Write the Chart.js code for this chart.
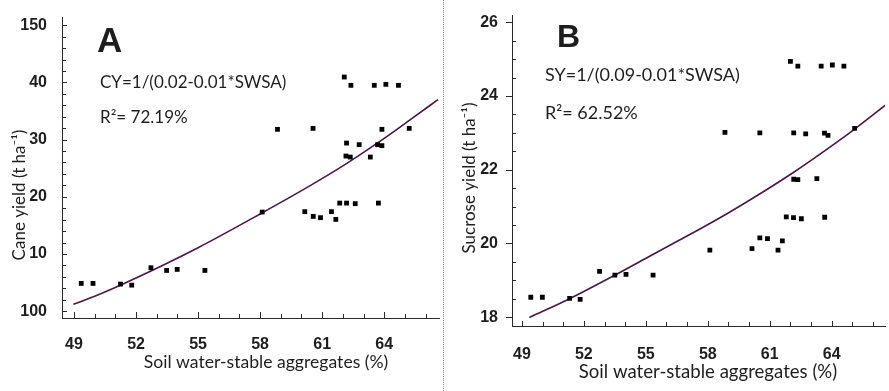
<!DOCTYPE html>
<html>
<head>
<meta charset="utf-8">
<script src="https://cdn.jsdelivr.net/npm/chart.js@4.4.1/dist/chart.umd.min.js"></script>
<style>
  html, body { margin: 0; padding: 0; background: #fff; }
  #wrap { position: relative; width: 889px; height: 391px; overflow: hidden; }
  #chartA { position: absolute; left: 0; top: 0; }
  #chartB { position: absolute; left: 444px; top: 0; }
  #divider { position: absolute; left: 443px; top: 0; width: 0; height: 391px; border-left: 1px dotted #8a8a8a; }
</style>
</head>
<body>
<div id="wrap">
  <canvas id="chartA" width="443" height="391"></canvas>
  <div id="divider"></div>
  <canvas id="chartB" width="445" height="391"></canvas>
</div>
<script>
// shared x axis ticks (soil water-stable aggregates, %)
let xTicks = [49, 52, 55, 58, 61, 64];

// panel A - cane yield
let yTicksA = [0, 10, 20, 30, 40, 50];
let yTickLabelsA = ['100', '10', '20', '30', '40', '150'];
let swsaA = [49.35, 49.92, 51.25, 51.79, 52.72, 53.48, 53.99, 55.33, 58.10, 58.84,
             60.16, 60.56, 60.57, 60.92, 61.45, 61.66, 61.85, 62.07, 62.18, 62.18,
             62.15, 62.36, 62.39, 62.60, 62.79, 63.33, 63.52, 63.68, 63.72, 63.89,
             63.89, 64.08, 64.69, 65.21];
let caneYield = [4.85, 4.85, 4.73, 4.55, 7.59, 7.12, 7.30, 7.12, 17.33, 31.80,
                 17.40, 31.97, 16.57, 16.35, 17.40, 16.05, 18.90, 40.95, 29.40, 18.90,
                 27.13, 26.95, 39.50, 18.80, 29.12, 26.95, 39.50, 29.12, 18.90, 31.80,
                 28.95, 39.67, 39.50, 31.97];
// fitted curve
let fitXA = [48.97, 50.0, 52.0, 55.0, 58.0, 60.44, 62.04, 63.63, 65.23, 66.6];
let fitYA = [1.2, 2.6, 5.8, 11.1, 17.0, 22.0, 25.5, 29.3, 33.4, 37.0];

// panel B - sucrose yield
let yTicksB = [18, 20, 22, 24, 26];
let swsaB = [49.43, 49.99, 51.31, 51.82, 52.76, 53.50, 54.04, 55.35, 58.10, 58.83,
             60.14, 60.52, 60.52, 60.89, 61.40, 61.61, 61.80, 62.00, 62.15, 62.16,
             62.16, 62.36, 62.36, 62.53, 62.74, 63.28, 63.49, 63.65, 63.66, 63.82,
             64.03, 64.59, 65.11];
let sucroseYield = [18.54, 18.54, 18.51, 18.48, 19.24, 19.14, 19.16, 19.14, 19.82, 23.01,
                    19.86, 23.00, 20.15, 20.13, 19.82, 20.07, 20.72, 24.94, 20.70, 23.00,
                    21.74, 21.73, 24.81, 20.67, 22.97, 21.76, 24.81, 22.99, 20.71, 22.93,
                    24.84, 24.81, 23.12];
let fitXB = [49.36, 51.31, 53.47, 55.14, 57.06, 58.97, 60.57, 62.16, 63.76, 65.11, 66.6];
let fitYB = [17.99, 18.50, 19.13, 19.64, 20.22, 20.82, 21.36, 21.93, 22.55, 23.10, 23.75];

const TXT = '#1e1e1e';
const AXIS = '#2a2a2a';
const CURVE = '#4b1745';
const tickFont = { family: "'Liberation Sans', Arial, sans-serif", size: 16, weight: 'bold' };
const textFamily = "Lato, 'DejaVu Sans', sans-serif";

function pairs(xs, ys) {
    return xs.map((x, i) => ({ x: x, y: ys[i] }));
}

function range(from, to, step) {
    let out = [];
    for (let v = from; v <= to + 1e-9; v += step) out.push(Math.round(v * 100) / 100);
    return out;
}

// tick marks drawn by hand so minor ticks and inward ticks are possible
const tickMarks = {
    id: 'tickMarks',
    afterDraw(chart, args, opts) {
        let ctx = chart.ctx;
        let xs = chart.scales.x, ys = chart.scales.y;
        let area = chart.chartArea;
        ctx.save();
        ctx.strokeStyle = AXIS;
        ctx.lineWidth = 1;
        ctx.beginPath();
        opts.x.forEach(t => {
            t.values.forEach(v => {
                let px = Math.round(xs.getPixelForValue(v)) + 0.5;
                ctx.moveTo(px, area.bottom + t.out);
                ctx.lineTo(px, area.bottom - t.in);
            });
        });
        opts.y.forEach(t => {
            t.values.forEach(v => {
                let py = Math.round(ys.getPixelForValue(v)) + 0.5;
                ctx.moveTo(area.left - t.out, py);
                ctx.lineTo(area.left + t.in, py);
            });
        });
        ctx.stroke();
        ctx.restore();
    }
};

// panel letter, fit equation and axis titles
const panelText = {
    id: 'panelText',
    afterDraw(chart, args, opts) {
        let ctx = chart.ctx;
        ctx.save();
        ctx.fillStyle = TXT;
        ctx.textBaseline = 'alphabetic';
        ctx.textAlign = 'left';
        ctx.font = 'bold ' + opts.letter.size + "px 'Liberation Sans', Arial, sans-serif";
        ctx.fillText(opts.letter.text, opts.letter.x, opts.letter.y);

        ctx.textBaseline = 'middle';
        opts.lines.forEach(l => {
            ctx.font = l.size + 'px ' + textFamily;
            ctx.fillText(l.text, l.x, l.y);
        });

        ctx.textAlign = 'center';
        ctx.font = opts.xTitle.size + 'px ' + textFamily;
        ctx.fillText(opts.xTitle.text, opts.xTitle.x, opts.xTitle.y);

        ctx.translate(opts.yTitle.x, opts.yTitle.y);
        ctx.rotate(-Math.PI / 2);
        ctx.font = opts.yTitle.size + 'px ' + textFamily;
        ctx.fillText(opts.yTitle.text, 0, 0);
        ctx.restore();
    }
};

function makeChart(canvas, cfg) {
    return new Chart(canvas, {
        type: 'scatter',
        data: {
            datasets: [{
                data: pairs(cfg.px, cfg.py),
                pointStyle: 'rect',
                pointRadius: 3.4,
                pointBorderWidth: 0,
                backgroundColor: '#000',
                borderColor: '#000',
                order: 0
            }, {
                data: pairs(cfg.fx, cfg.fy),
                showLine: true,
                pointRadius: 0,
                borderColor: CURVE,
                borderWidth: 1.6,
                cubicInterpolationMode: 'monotone',
                order: 1
            }]
        },
        options: {
            responsive: false,
            animation: false,
            devicePixelRatio: 1,
            layout: { padding: { top: cfg.top, right: 0, left: 0, bottom: 0 } },
            plugins: {
                legend: { display: false },
                tooltip: { enabled: false },
                tickMarks: cfg.tickMarks,
                panelText: cfg.text
            },
            scales: {
                x: {
                    type: 'linear',
                    min: cfg.xMin, max: cfg.xMax,
                    grid: { display: false },
                    border: { display: true, color: AXIS, width: 1 },
                    afterBuildTicks: s => { s.ticks = xTicks.map(v => ({ value: v })); },
                    afterFit: s => { s.height = cfg.xHeight; },
                    ticks: {
                        font: tickFont, color: TXT, padding: cfg.xPad,
                        maxRotation: 0, autoSkip: false
                    }
                },
                y: {
                    type: 'linear',
                    min: cfg.yMin, max: cfg.yMax,
                    grid: { display: false },
                    border: { display: true, color: AXIS, width: 1 },
                    afterBuildTicks: s => { s.ticks = cfg.yTicks.map(v => ({ value: v })); },
                    afterFit: s => { s.width = cfg.yWidth; },
                    ticks: {
                        font: tickFont, color: TXT, padding: cfg.yPad, autoSkip: false,
                        callback: cfg.yLabel
                    }
                }
            }
        },
        plugins: [tickMarks, panelText]
    });
}

makeChart(document.getElementById('chartA'), {
    px: swsaA, py: caneYield, fx: fitXA, fy: fitYA,
    xMin: 48.42, xMax: 66.65, yMin: -1.2, yMax: 51.45,
    top: 17, xHeight: 73, yWidth: 62, xPad: 9, yPad: 7,
    yTicks: yTicksA,
    yLabel: (v, i) => yTickLabelsA[i],
    tickMarks: {
        x: [{ values: xTicks, in: 6, out: 0 },
            { values: range(49, 66, 1).filter(v => xTicks.indexOf(v) < 0), in: 4, out: 0 }],
        y: [{ values: yTicksA, in: 5, out: 0 },
            { values: range(0, 50, 2).filter(v => v % 10 !== 0), in: 4, out: 0 }]
    },
    text: {
        letter: { text: 'A', x: 97, y: 52, size: 35 },
        lines: [
            { text: 'CY=1/(0.02-0.01*SWSA)', x: 100, y: 83, size: 17 },
            { text: 'R\u00b2= 72.19%', x: 100, y: 118, size: 17 }
        ],
        xTitle: { text: 'Soil water-stable aggregates (%)', x: 266, y: 362, size: 17.6 },
        yTitle: { text: 'Cane yield (t ha\u207b\u00b9)', x: 20, y: 195, size: 17 }
    }
});

makeChart(document.getElementById('chartB'), {
    px: swsaB, py: sucroseYield, fx: fitXB, fy: fitYB,
    xMin: 48.52, xMax: 66.58, yMin: 17.76, yMax: 26.18,
    top: 15, xHeight: 65, yWidth: 68, xPad: 11, yPad: 6,
    yTicks: yTicksB,
    yLabel: v => String(v),
    tickMarks: {
        x: [{ values: xTicks, in: 5, out: 0 },
            { values: range(49, 66, 1).filter(v => xTicks.indexOf(v) < 0), in: 4, out: 0 }],
        y: [{ values: yTicksB, in: 0, out: 6 },
            { values: range(18, 26, 0.5).filter(v => v % 2 !== 0), in: 4, out: 0 }]
    },
    text: {
        letter: { text: 'B', x: 113, y: 47, size: 32 },
        lines: [
            { text: 'SY=1/(0.09-0.01*SWSA)', x: 101, y: 75, size: 18 },
            { text: 'R\u00b2= 62.52%', x: 101, y: 113, size: 18 }
        ],
        xTitle: { text: 'Soil water-stable aggregates (%)', x: 264, y: 372, size: 18.6 },
        yTitle: { text: 'Sucrose yield (t ha\u207b\u00b9)', x: 26, y: 178, size: 17 }
    }
});
</script>
</body>
</html>
